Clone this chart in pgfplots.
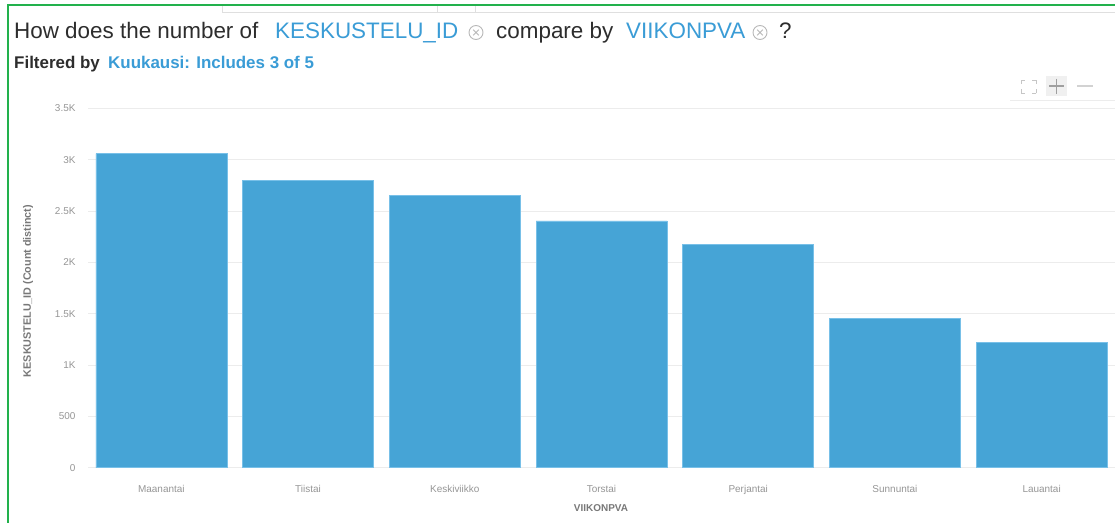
\documentclass[border=0pt]{standalone}
\usepackage{pgfplots}
\pgfplotsset{compat=1.18}
\usepackage{fontspec}
\setmainfont{Liberation Sans}
\definecolor{barblue}{RGB}{70,164,214}
\definecolor{baredge}{RGB}{120,192,232}
\definecolor{titleblue}{RGB}{58,156,214}
\definecolor{framegreen}{RGB}{34,177,76}
\definecolor{darktext}{RGB}{45,45,45}
\definecolor{ticktext}{RGB}{150,150,150}
\definecolor{labeltext}{RGB}{120,120,120}
\definecolor{gridc}{RGB}{236,236,236}
\begin{document}
\begin{tikzpicture}
\useasboundingbox (0,0) rectangle (1115bp,-523bp);
\fill[white] (0,0) rectangle (1115bp,-523bp);
% frame decorations
\draw[gray!25, line width=1bp] (222bp,-12bp) -- (1115bp,-12bp);
\draw[gray!25, line width=1bp] (222bp,-5bp) -- (222bp,-12bp);
\draw[gray!25, line width=1bp] (437bp,-5bp) -- (437bp,-12bp);
\draw[gray!25, line width=1bp] (475bp,-5bp) -- (475bp,-12bp);
\draw[framegreen, line width=2bp] (7.5bp,-523bp) -- (7.5bp,-5bp) -- (1115bp,-5bp);

\begin{axis}[
  at={(88bp,-467.8bp)}, anchor=south west,
  scale only axis, width=1027bp, height=359.5bp,
  xmin=-0.5, xmax=6.5, ymin=0, ymax=3500,
  axis line style={draw=none},
  major tick length=0pt,
  ymajorgrids, grid style={draw=gridc, line width=1bp},
  ytick={0,500,1000,1500,2000,2500,3000,3500},
  yticklabels={0,500,1K,1.5K,2K,2.5K,3K,3.5K},
  xtick={0,1,2,3,4,5,6},
  xticklabels={Maanantai,Tiistai,Keskiviikko,Torstai,Perjantai,Sunnuntai,Lauantai},
  yticklabel style={font=\fontsize{10}{12}\selectfont, text=ticktext, xshift=-9bp},
  xticklabel style={font=\fontsize{10}{12}\selectfont, text=ticktext, yshift=-14bp},
  ybar, bar width=131bp,
]
\addplot[fill=barblue, draw=baredge, line width=0.7bp] coordinates {
  (0,3058) (1,2796) (2,2649) (3,2403) (4,2176) (5,1452) (6,1222)
};
\end{axis}

% axis titles
\node[text=labeltext, font=\bfseries\fontsize{10}{12}\selectfont] at (601bp,-508bp) {VIIKONPVA};
\node[rotate=90, text=labeltext, font=\bfseries\fontsize{10.8}{12}\selectfont] at (28bp,-291bp) {KESKUSTELU\_ID (Count distinct)};

% title
\begin{scope}[every node/.style={anchor=base west, inner sep=0pt, font=\fontsize{22.5}{27}\selectfont}]
  \node[text=darktext] at (14bp,-38.5bp) {How does the number of};
  \node[text=titleblue] at (275bp,-38.5bp) {KESKUSTELU\_ID};
  \node[text=darktext] at (496bp,-38.5bp) {compare by};
  \node[text=titleblue] at (626bp,-38.5bp) {VIIKONPVA};
  \node[text=darktext] at (779bp,-38.5bp) {?};
\end{scope}
\foreach \cx in {476,760}{
  \draw[gray!55, line width=0.9bp] (\cx bp,-32.5bp) circle (7bp);
  \draw[gray!55, line width=0.9bp] (\cx bp-2.8bp,-29.7bp) -- (\cx bp+2.8bp,-35.3bp)
                                    (\cx bp-2.8bp,-35.3bp) -- (\cx bp+2.8bp,-29.7bp);
}
\node[anchor=base west, inner sep=0pt, font=\bfseries\fontsize{17}{19}\selectfont, text=darktext] at (14bp,-68.5bp) {Filtered by};
\node[anchor=base west, inner sep=0pt, font=\bfseries\fontsize{17}{19}\selectfont, text=titleblue] at (108bp,-68.5bp) {Kuukausi: Includes 3 of 5};

% zoom controls
\begin{scope}[gray!45, line width=0.8bp]
  \draw (1021bp,-80bp) -- (1025bp,-80bp) (1021bp,-80bp) -- (1021bp,-84bp);
  \draw (1036bp,-80bp) -- (1032bp,-80bp) (1036bp,-80bp) -- (1036bp,-84bp);
  \draw (1021bp,-93bp) -- (1025bp,-93bp) (1021bp,-93bp) -- (1021bp,-89bp);
  \draw (1036bp,-93bp) -- (1032bp,-93bp) (1036bp,-93bp) -- (1036bp,-89bp);
\end{scope}
\fill[gray!12] (1046bp,-76bp) rectangle (1067bp,-96bp);
\draw[gray!75, line width=1.2bp] (1049bp,-86bp) -- (1064bp,-86bp) (1056.5bp,-78.5bp) -- (1056.5bp,-93.5bp);
\draw[gray!35, line width=1.2bp] (1077bp,-86bp) -- (1093bp,-86bp);
\draw[gray!15, line width=0.8bp] (1010bp,-100bp) -- (1115bp,-100bp);
\end{tikzpicture}
\end{document}
